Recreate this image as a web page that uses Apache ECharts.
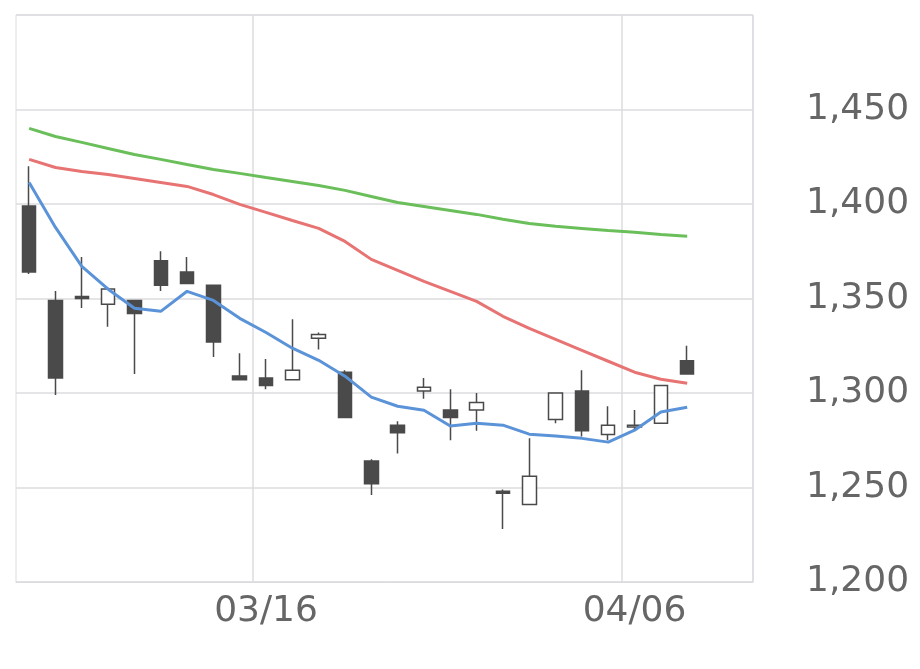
<!DOCTYPE html>
<html><head><meta charset="utf-8">
<script src="https://cdn.jsdelivr.net/npm/echarts@6/dist/echarts.min.js"></script>
<style>html,body{margin:0;padding:0;background:#fff}#c{width:920px;height:669px}</style>
</head><body><div id="c"></div>
<script>
const dates = ['03/03','03/04','03/05','03/06','03/09','03/10','03/11','03/12','03/13','03/16','03/17','03/18','03/19','03/23','03/24','03/25','03/26','03/27','03/30','03/31','04/01','04/02','04/03','04/06','04/07','04/08','04/09','04/10'];
// [open, close, low, high]
const ohlc = [
[1399,1364,1363,1420],[1349,1308,1299,1354],[1351,1350,1345,1372],[1347,1355,1335,1356],
[1349,1342,1310,1349],[1370,1357,1354,1375],[1364,1358,1358,1372],[1357,1327,1319,1357],
[1309,1307,1307,1321],[1308,1304,1302,1318],[1307,1312,1307,1339],[1329,1331,1323,1332],
[1311,1287,1287,1312],[1264,1252,1246,1265],[1283,1279,1268,1285],[1301,1303,1297,1308],
[1291,1287,1275,1302],[1291,1295,1280,1300],[1248,1247,1228,1249],[1241,1256,1241,1276],
[1286,1300,1284,1300],[1301,1280,1277,1312],[1278,1283,1275,1293],[1282,1283,1281,1291],
[1284,1304,1284,1304],[1317,1310,1310,1325]];
const ma5 = [1411.4,1387.6,1367,1354.9,1344.8,1343.2,1353.8,1349,1339.5,1332,1323.7,1317.3,1308.9,1297.8,1293,1290.9,1282.5,1284,1283,1278.2,1277.2,1276,1274,1280.3,1289.9,1292.5];
const ma25 = [1423.6,1419.3,1417.2,1415.6,1413.5,1411.4,1409.3,1405,1399.8,1395.6,1391.3,1387.1,1380.2,1370.7,1364.9,1359.1,1353.8,1348.5,1340.6,1334.2,1328.4,1322.6,1316.8,1311,1307.3,1305.2];
const ma75 = [1440,1435.7,1432.6,1429.4,1426.2,1423.6,1420.9,1418.3,1416.2,1414,1411.9,1409.8,1407.2,1404,1400.8,1398.7,1396.6,1394.5,1391.9,1389.7,1388.2,1387.1,1386,1385,1383.9,1382.9];
const yTicks = [1200,1250,1300,1350,1400,1450,1500];
const labelIdx = [9,23];

const chart = echarts.init(document.getElementById('c'));
const ln = (d,c)=>({type:'line',data:d,symbol:'none',smooth:false,lineStyle:{color:c,width:3},z:3});
chart.setOption({
  animation:false,
  grid:{left:16,right:167,top:15,bottom:87,show:true,borderColor:'#dcdce0',borderWidth:1},
  xAxis:{type:'category',data:dates,boundaryGap:true,
    axisLine:{lineStyle:{color:'#dcdce0'}},axisTick:{show:false},
    axisLabel:{interval:(i)=>labelIdx.includes(i),color:'#666',fontSize:36,margin:12,fontFamily:'DejaVu Sans'},
    splitLine:{show:true,interval:(i)=>labelIdx.includes(i),lineStyle:{color:'#dcdce0',width:1.5}}},
  yAxis:{type:'value',position:'right',min:yTicks[0],max:yTicks[yTicks.length-1],interval:50,
    axisLine:{show:false},axisTick:{show:false},
    axisLabel:{showMaxLabel:false,color:'#666',fontSize:36,margin:53,fontFamily:'DejaVu Sans'},
    splitLine:{lineStyle:{color:'#dcdce0',width:1.5}}},
  series:[
    {type:'candlestick',data:ohlc,barWidth:14,
      itemStyle:{color:'#ffffff',color0:'#4a4a4a',borderColor:'#4a4a4a',borderColor0:'#4a4a4a',borderWidth:1.5},z:2},
    ln(ma75,'#6abf5a'),ln(ma25,'#e87373'),ln(ma5,'#5b93d8')
  ]
});
</script></body></html>
